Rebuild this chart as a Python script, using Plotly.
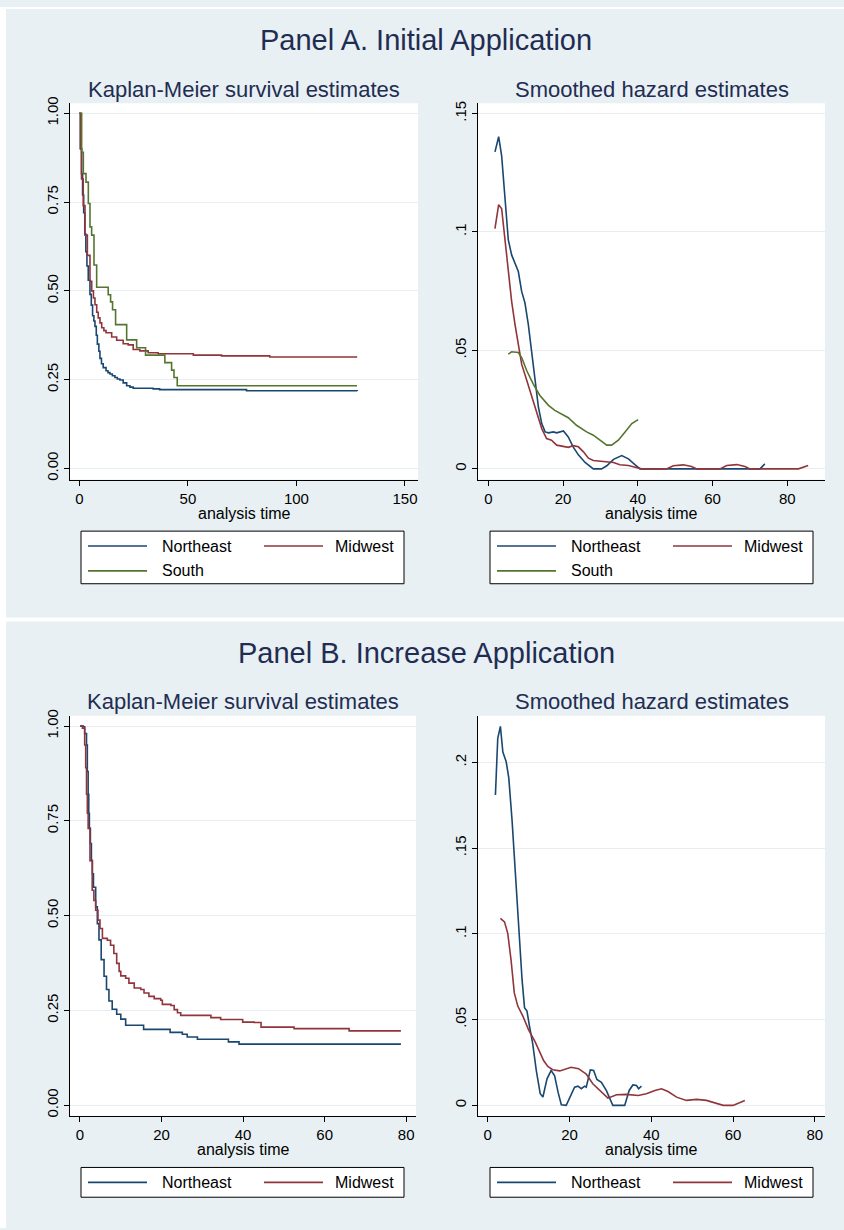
import plotly.graph_objects as go

W, H = 844, 1230

# ---------------- data ----------------
regions = ["Northeast", "Midwest", "South"]
colors = {"Northeast": "#1a476f", "Midwest": "#90353b", "South": "#55752f"}

# Panel A, Kaplan-Meier
kmA_ne_t = [0, 0.5, 1.0, 1.5, 2.0, 2.5, 3.0, 3.5, 4.1, 4.9, 5.5, 6.1, 6.7, 7.2, 7.8, 8.3, 9.0, 9.5,
            10.2, 11.0, 12.3, 13.2, 14.1, 15.2, 16.4, 17.5, 18.7, 20.2, 21.8, 23.3, 24.8, 34.0, 37.0, 77.0, 128.0]
kmA_ne_s = [1.0, 0.90, 0.83, 0.77, 0.72, 0.66, 0.61, 0.57, 0.53, 0.49, 0.46, 0.43, 0.415, 0.40, 0.375, 0.35,
            0.33, 0.31, 0.295, 0.284, 0.275, 0.27, 0.266, 0.261, 0.256, 0.252, 0.249, 0.241, 0.233, 0.229,
            0.226, 0.224, 0.222, 0.219, 0.218]
kmA_mw_t = [0, 0.5, 1.0, 1.8, 2.6, 3.7, 4.9, 5.7, 6.5, 7.2, 8.0, 8.7, 9.5, 10.3, 11.3, 12.3, 14.9, 17.2,
            20.2, 22.5, 24.8, 27.9, 31.7, 36.3, 52.5, 65.5, 87.7, 128.0]
kmA_mw_s = [1.0, 0.90, 0.815, 0.74, 0.657, 0.60, 0.527, 0.50, 0.48, 0.461, 0.44, 0.424, 0.41, 0.396, 0.388,
            0.382, 0.37, 0.361, 0.351, 0.348, 0.335, 0.331, 0.326, 0.323, 0.319, 0.317, 0.314, 0.314]
kmA_so_t = [0, 1.07, 1.84, 3.07, 4.14, 4.91, 5.67, 6.75, 7.98, 9.2, 13.3, 14.4, 15.3, 16.7, 21.8, 26.4,
            30.5, 39.4, 42.5, 43.6, 45.1, 127.9]
kmA_so_s = [1.0, 0.89, 0.83, 0.806, 0.746, 0.68, 0.657, 0.573, 0.51, 0.51, 0.489, 0.469, 0.447, 0.405,
            0.362, 0.34, 0.319, 0.298, 0.277, 0.256, 0.233, 0.233]

# Panel A, smoothed hazard
hzA_ne_t = [1.78, 2.77, 3.57, 4.46, 5.35, 6.24, 7.14, 8.03, 8.92, 9.81, 10.7, 11.6, 12.5, 13.4, 14.3, 15.2,
            16.1, 17.4, 18.3, 20.1, 21.4, 22.7, 24.1, 25.9, 28.1, 30.3, 31.7, 33.5, 35.7, 37.5, 39.3, 40.6,
            50.0, 60.0, 72.7, 74.0]
hzA_ne_h = [0.1338, 0.1402, 0.1321, 0.1126, 0.0966, 0.0903, 0.0868, 0.0833, 0.0749, 0.0700, 0.0610, 0.0498,
            0.0373, 0.0261, 0.0191, 0.0156, 0.0152, 0.0156, 0.0152, 0.0160, 0.0135, 0.0093, 0.0059, 0.0027,
            0.0, 0.0, 0.0013, 0.0040, 0.0056, 0.0042, 0.0017, 0.0, 0.0, 0.0, 0.0, 0.0021]
hzA_mw_t = [1.78, 2.77, 3.57, 4.46, 5.35, 6.24, 7.14, 8.03, 8.92, 10.3, 12.0, 13.4, 14.3, 15.6, 16.9, 18.3,
            20.1, 21.4, 22.7, 24.1, 25.4, 26.8, 28.1, 29.9, 31.7, 33.5, 35.2, 37.5, 39.3, 41.0, 47.7, 49.5,
            52.2, 54.4, 55.8, 62.0, 63.8, 66.5, 68.7, 70.0, 83.0, 85.6]
hzA_mw_h = [0.1014, 0.1115, 0.1098, 0.0973, 0.0833, 0.0707, 0.0610, 0.0526, 0.0442, 0.0373, 0.0289, 0.0219,
            0.0170, 0.0128, 0.0121, 0.0100, 0.0096, 0.0091, 0.0098, 0.0093, 0.0073, 0.0045, 0.0035, 0.0032,
            0.0031, 0.0027, 0.0017, 0.0014, 0.0007, 0.0, 0.0, 0.0013, 0.0017, 0.0010, 0.0, 0.0, 0.0014,
            0.0018, 0.0010, 0.0, 0.0, 0.0014]
hzA_so_t = [5.35, 6.24, 8.03, 8.92, 10.3, 12.0, 13.8, 16.1, 17.8, 19.6, 21.4, 23.6, 26.3, 28.1, 29.9, 31.7,
            33.0, 34.8, 36.6, 38.4, 40.1]
hzA_so_h = [0.0484, 0.0494, 0.0491, 0.0470, 0.0414, 0.0359, 0.0310, 0.0268, 0.0247, 0.0233, 0.0216, 0.0184,
            0.0156, 0.0142, 0.0121, 0.0100, 0.0100, 0.0121, 0.0156, 0.0191, 0.0208]

# Panel B, Kaplan-Meier
kmB_ne_t = [0, 0.8, 1.15, 1.6, 1.8, 2.0, 2.15, 2.3, 2.55, 2.8, 3.05, 3.3, 3.85, 4.25, 4.66, 5.2, 5.9, 6.5,
            7.1, 7.9, 9.0, 10.0, 11.2, 15.6, 22.1, 25.1, 26.3, 28.8, 36.4, 39.0, 78.7]
kmB_ne_s = [1.0, 0.998, 0.98, 0.95, 0.88, 0.82, 0.77, 0.73, 0.69, 0.645, 0.61, 0.575, 0.523, 0.479, 0.436,
            0.384, 0.34, 0.305, 0.275, 0.253, 0.24, 0.227, 0.211, 0.2, 0.192, 0.187, 0.18, 0.174, 0.167,
            0.161, 0.161]
kmB_mw_t = [0, 0.6, 1.15, 1.4, 1.6, 1.8, 2.0, 2.45, 3.0, 3.4, 3.85, 4.4, 4.9, 5.5, 6.7, 7.5, 8.3, 9.0, 9.6,
            10.0, 11.2, 12.0, 13.3, 14.9, 15.7, 16.9, 18.2, 19.8, 20.2, 22.3, 23.1, 23.9, 24.7, 32.1, 34.5,
            39.9, 42.7, 44.4, 52.5, 66.0, 78.7]
kmB_mw_s = [1.0, 0.994, 0.95, 0.89, 0.82, 0.77, 0.73, 0.645, 0.567, 0.54, 0.514, 0.488, 0.466, 0.44, 0.435,
            0.422, 0.4, 0.374, 0.353, 0.341, 0.335, 0.322, 0.309, 0.305, 0.296, 0.287, 0.281, 0.277, 0.266,
            0.263, 0.252, 0.244, 0.237, 0.231, 0.226, 0.219, 0.218, 0.206, 0.202, 0.196, 0.196]

# Panel B, smoothed hazard
hzB_ne_t = [1.88, 2.45, 3.1, 3.7, 4.5, 5.15, 5.96, 6.94, 7.76, 8.4, 9.0, 9.6, 10.2, 11.0, 11.9, 12.84, 13.5,
            14.5, 15.5, 16.35, 17.2, 18.0, 19.2, 20.0, 21.25, 22.06, 22.9, 23.7, 24.1, 25.1, 25.9, 26.7, 27.8,
            29.0, 30.6, 33.5, 34.6, 35.5, 36.4, 36.9, 37.6]
hzB_ne_h = [0.181, 0.214, 0.221, 0.206, 0.2006, 0.191, 0.166, 0.127, 0.0945, 0.0733, 0.057, 0.055, 0.0463,
            0.036, 0.020, 0.0068, 0.0049, 0.0155, 0.0203, 0.0174, 0.0077, 0.0004, 0.0, 0.0039, 0.0106, 0.0112,
            0.0097, 0.0112, 0.0106, 0.0207, 0.0203, 0.0151, 0.0135, 0.0087, 0.0, 0.0, 0.0087, 0.0119, 0.0116,
            0.0097, 0.0112]
hzB_mw_t = [3.1, 4.1, 4.9, 5.7, 6.5, 7.35, 8.6, 10.0, 11.6, 12.7, 13.7, 14.7, 15.9, 17.6, 19.2, 20.4, 22.2,
            24.1, 25.7, 27.8, 29.4, 31.5, 33.9, 36.8, 38.8, 40.9, 42.5, 44.1, 46.2, 48.6, 51.1, 53.5, 55.6,
            57.6, 60.0, 61.7, 62.9]
hzB_mw_h = [0.109, 0.107, 0.1003, 0.0849, 0.0656, 0.0579, 0.052, 0.044, 0.037, 0.031, 0.026, 0.0227, 0.0208,
            0.0201, 0.0212, 0.0222, 0.0214, 0.0183, 0.0126, 0.0077, 0.0042, 0.0062, 0.0064, 0.0058, 0.0068,
            0.0087, 0.0097, 0.0081, 0.0048, 0.0029, 0.0035, 0.0029, 0.0015, 0.0, 0.0, 0.0019, 0.0029]

km_ticks = [0, 0.25, 0.5, 0.75, 1.0]
km_ticktext = ["0.00", "0.25", "0.50", "0.75", "1.00"]
hzA_ticks = [0, 0.05, 0.1, 0.15]
hzA_ticktext = ["0", ".05", ".1", ".15"]
hzB_ticks = [0, 0.05, 0.1, 0.15, 0.2]
hzB_ticktext = ["0", ".05", ".1", ".15", ".2"]
xA_km_ticks = [0, 50, 100, 150]
x80_ticks = [0, 20, 40, 60, 80]

panel_titles = ["Panel A. Initial Application", "Panel B. Increase Application"]
sub_titles = ["Kaplan-Meier survival estimates", "Smoothed hazard estimates"]
xlabel = "analysis time"

# ---------------- styling ----------------
BG = "#e8f0f3"
GRID = "#e6eef1"
TITLE_C = "#1f2d52"
FONT = "Liberation Sans, Arial, Helvetica, sans-serif"


def fx(px):
    return px / W


def fy(py):
    return 1 - py / H


# subplot geometry (pixels)
subplots = [
    dict(n="", xpx=(70, 418), ypx=(97, 476), xr=[-4.3, 156], yr=[-0.031, 1.028],
         xt=xA_km_ticks, yt=km_ticks, ytt=km_ticktext),
    dict(n="2", xpx=(478, 825), ypx=(97, 476), xr=[-2.76, 90.1], yr=[-0.0045, 0.1543],
         xt=x80_ticks, yt=hzA_ticks, ytt=hzA_ticktext),
    dict(n="3", xpx=(70, 416), ypx=(714, 1117), xr=[-2.45, 82.4], yr=[-0.028, 1.027],
         xt=x80_ticks, yt=km_ticks, ytt=km_ticktext),
    dict(n="4", xpx=(478, 825), ypx=(714, 1117), xr=[-2.38, 82.5], yr=[-0.0061, 0.2272],
         xt=x80_ticks, yt=hzB_ticks, ytt=hzB_ticktext),
]

fig = go.Figure()


def add_line(sp, t, v, name, shape):
    fig.add_trace(go.Scatter(
        x=t, y=v, mode="lines", name=name, showlegend=False,
        line=dict(color=colors[name], width=1.6, shape=shape),
        xaxis="x" + sp["n"], yaxis="y" + sp["n"], hoverinfo="skip"))


add_line(subplots[0], kmA_ne_t, kmA_ne_s, "Northeast", "hv")
add_line(subplots[0], kmA_mw_t, kmA_mw_s, "Midwest", "hv")
add_line(subplots[0], kmA_so_t, kmA_so_s, "South", "hv")
add_line(subplots[1], hzA_ne_t, hzA_ne_h, "Northeast", "linear")
add_line(subplots[1], hzA_mw_t, hzA_mw_h, "Midwest", "linear")
add_line(subplots[1], hzA_so_t, hzA_so_h, "South", "linear")
add_line(subplots[2], kmB_ne_t, kmB_ne_s, "Northeast", "hv")
add_line(subplots[2], kmB_mw_t, kmB_mw_s, "Midwest", "hv")
add_line(subplots[3], hzB_ne_t, hzB_ne_h, "Northeast", "linear")
add_line(subplots[3], hzB_mw_t, hzB_mw_h, "Midwest", "linear")

layout = dict(
    width=W, height=H, margin=dict(l=0, r=0, t=0, b=0),
    paper_bgcolor=BG, plot_bgcolor="white",
    font=dict(family=FONT, color="#000000"),
    showlegend=False,
)

tickfont = dict(family=FONT, size=15, color="#000000")
for sp in subplots:
    n = sp["n"]
    layout["xaxis" + n] = dict(
        domain=[fx(sp["xpx"][0]), fx(sp["xpx"][1])], range=sp["xr"], anchor="y" + n,
        tickmode="array", tickvals=sp["xt"], ticktext=[str(v) for v in sp["xt"]],
        showline=True, linecolor="#000000", linewidth=1, ticks="outside", ticklen=5,
        tickcolor="#000000", showgrid=False, zeroline=False, tickfont=tickfont, fixedrange=True)
    layout["yaxis" + n] = dict(
        domain=[fy(sp["ypx"][1]), fy(sp["ypx"][0])], range=sp["yr"], anchor="x" + n,
        tickmode="array", tickvals=sp["yt"], ticktext=sp["ytt"], tickangle=-90,
        showline=True, linecolor="#000000", linewidth=1, ticks="outside", ticklen=5,
        tickcolor="#000000", showgrid=True, gridcolor=GRID, gridwidth=1.2, zeroline=False,
        tickfont=tickfont, fixedrange=True)

shapes = []
annotations = []

# white frame strips around / between the two panels
for (x0, y0, x1, y1) in [(0, 0, 6, H), (0, 0, W, 2), (0, 615, W, 619)]:
    shapes.append(dict(type="rect", xref="paper", yref="paper", x0=fx(x0), x1=fx(x1),
                       y0=fy(y1), y1=fy(y0), fillcolor="white", line=dict(width=0), layer="below"))

# panel titles
for txt, ypx in zip(panel_titles, [33, 651]):
    annotations.append(dict(text=txt, x=fx(426), y=fy(ypx), xref="paper", yref="paper",
                            showarrow=False, xanchor="center", yanchor="middle",
                            font=dict(family=FONT, size=29, color=TITLE_C)))

# subplot titles and axis titles
for i, sp in enumerate(subplots):
    cx = (sp["xpx"][0] + sp["xpx"][1]) / 2
    annotations.append(dict(text=sub_titles[i % 2], x=fx(cx), y=fy(sp["ypx"][0] - 14),
                            xref="paper", yref="paper", showarrow=False, xanchor="center",
                            yanchor="middle", font=dict(family=FONT, size=22, color=TITLE_C)))
    annotations.append(dict(text=xlabel, x=fx(cx), y=fy(sp["ypx"][1] + 34), xref="paper", yref="paper",
                            showarrow=False, xanchor="center", yanchor="middle",
                            font=dict(family=FONT, size=16, color="#000000")))


# legends (drawn as boxes with line samples)
def legend(box_x0, box_x1, box_y0, box_y1, rows):
    shapes.append(dict(type="rect", xref="paper", yref="paper", x0=fx(box_x0), x1=fx(box_x1),
                       y0=fy(box_y1), y1=fy(box_y0), fillcolor="white",
                       line=dict(color="#000000", width=1)))
    for (name, col, ypx) in rows:
        lx0 = box_x0 + 7 if col == 0 else box_x0 + 183
        shapes.append(dict(type="line", xref="paper", yref="paper", x0=fx(lx0), x1=fx(lx0 + 59),
                           y0=fy(ypx), y1=fy(ypx), line=dict(color=colors[name], width=1.6)))
        if col == 0:
            annotations.append(dict(text=name, x=fx(lx0 + 72), y=fy(ypx), xref="paper", yref="paper",
                                    showarrow=False, xanchor="left", yanchor="middle",
                                    font=dict(family=FONT, size=16, color="#000000")))
        else:
            annotations.append(dict(text=name, x=fx(box_x1 - 8), y=fy(ypx), xref="paper", yref="paper",
                                    showarrow=False, xanchor="right", yanchor="middle",
                                    font=dict(family=FONT, size=16, color="#000000")))


for bx0, bx1 in [(81, 404), (490, 813)]:
    legend(bx0, bx1, 528, 581, [(regions[0], 0, 543), (regions[1], 1, 543), (regions[2], 0, 568)])
    legend(bx0, bx1, 1169, 1199, [(regions[0], 0, 1184), (regions[1], 1, 1184)])

layout["shapes"] = shapes
layout["annotations"] = annotations
fig.update_layout(**layout)

fig.write_html("out.html", config={"displayModeBar": False},
               post_script="document.body.style.margin='0';document.body.style.padding='0';")
